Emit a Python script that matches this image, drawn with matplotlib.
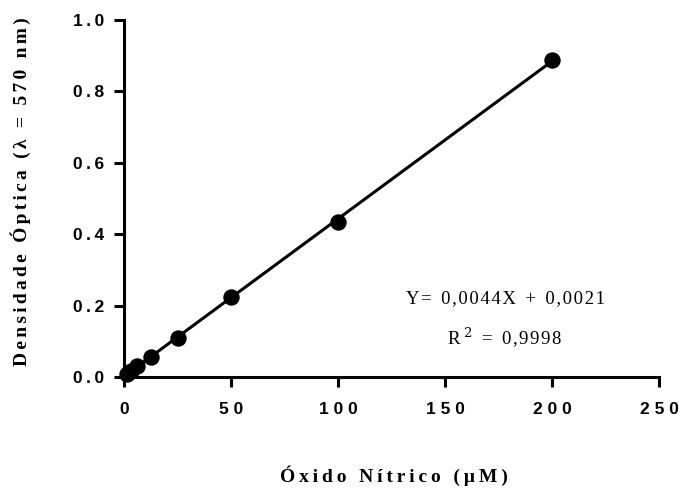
import numpy as np
import matplotlib
matplotlib.use("Agg")
import matplotlib.pyplot as plt

# Data
concentrations = [1.5625, 3.125, 6.25, 12.5, 25, 50, 100, 200]
absorbance = [0.009, 0.018, 0.032, 0.057, 0.108, 0.224, 0.434, 0.889]
x_ticks = [0, 50, 100, 150, 200, 250]
y_ticks = [0.0, 0.2, 0.4, 0.6, 0.8, 1.0]
equation_parts = ["Y=", "0,0044X", "+", "0,0021"]
r2_value = "0,9998"
x_label = "Óxido Nítrico (µM)"
y_label = "Densidade Óptica (λ = 570 nm)"

HAIR = "\u200a"
THIN = "\u2009"
SIXTH = "\u2006"
def spaced(s, sep=HAIR):
    return sep.join(s)

SANS = ["Liberation Sans", "DejaVu Sans"]
SERIF = ["Liberation Serif", "DejaVu Serif"]

fig = plt.figure(figsize=(6.79, 4.88), dpi=100)
ax = fig.add_axes([124/679, 1 - 377/488, (659-124)/679, (377-20)/488])

# regression line from the data
slope, intercept = np.polyfit(concentrations, absorbance, 1)
xl = np.array([0, max(concentrations)])
ax.plot(xl, slope * xl + intercept, color="black", lw=2.2, clip_on=False, zorder=2)
ax.plot(concentrations, absorbance, "o", color="black", ms=10.8, clip_on=False, zorder=3)

ax.set_xlim(0, 250)
ax.set_ylim(0, 1.0)
ax.set_xticks(x_ticks)
ax.set_yticks(y_ticks)
ax.set_xticklabels([spaced(str(t), " ") for t in x_ticks], family=SANS, fontweight="bold", fontsize=12.5)
ax.set_yticklabels([spaced(f"{t:.1f}", THIN) for t in y_ticks], family=SANS, fontweight="bold", fontsize=12.5)

for s in ["top", "right"]:
    ax.spines[s].set_visible(False)
for s in ["left", "bottom"]:
    ax.spines[s].set_linewidth(2.2)
    ax.spines[s].set_capstyle("projecting")
ax.tick_params(axis="both", direction="out", length=7, width=2.2, color="black")
ax.tick_params(axis="x", pad=11)
ax.tick_params(axis="y", pad=7)

fig.text(394/679, 1 - 476/488, spaced(x_label, THIN), family=SERIF, fontweight="bold",
         fontsize=14, ha="center", va="center")
fig.text(21/679, 1 - 192/488, spaced(y_label, SIXTH), family=SERIF, fontweight="bold",
         fontsize=14, ha="center", va="center", rotation=90)

eq = "\u2002".join(spaced(p, HAIR) for p in equation_parts)
fig.text(505/679, 1 - 299/488, eq, family=SERIF, fontsize=13.5,
         ha="center", va="center")
r2 = "R" + THIN + r"$^{2}$" + "\u2002=\u2002" + spaced(r2_value, HAIR)
fig.text(505/679, 1 - 338/488, r2,
         family=SERIF, fontsize=13.5, ha="center", va="center", math_fontfamily="dejavuserif")

fig.savefig("out.png", dpi=100)
